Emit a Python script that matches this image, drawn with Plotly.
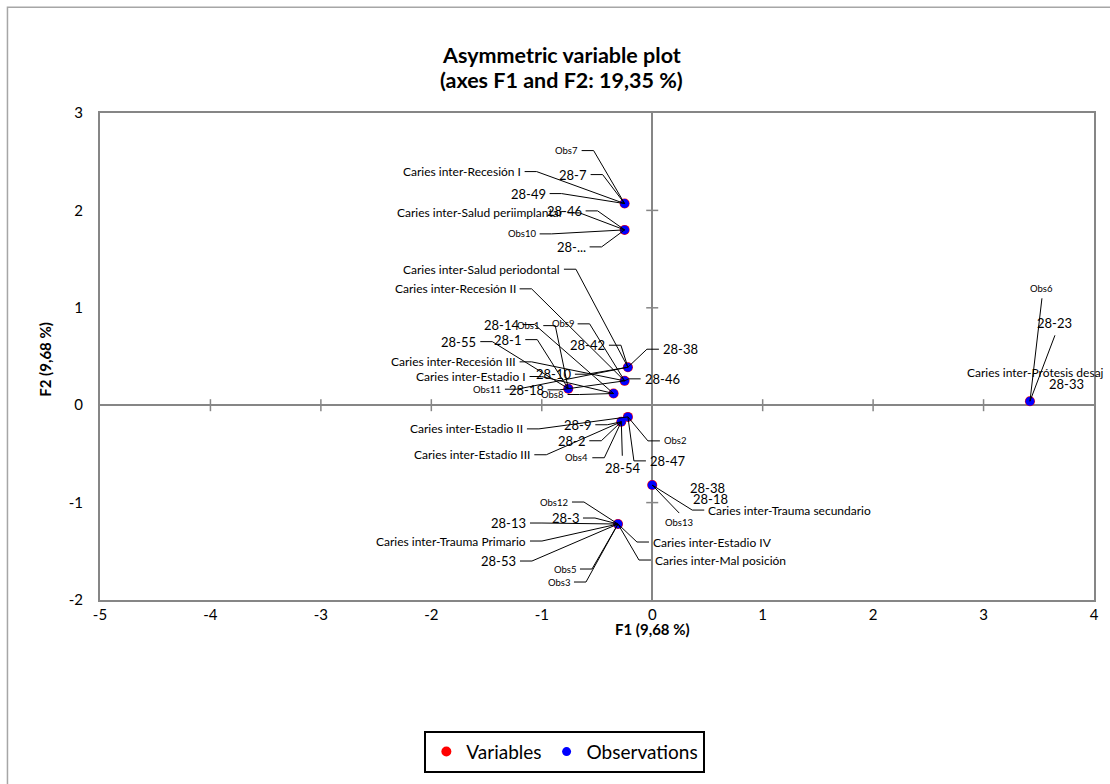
import plotly.graph_objects as go

# ---------------- data ----------------
# positions shared by variables (red) and observations (blue)
var_x = [-0.25, -0.25, -0.22, -0.25, -0.35, -0.76, -0.22, -0.28, 0.00, -0.31, 3.42]
var_y = [2.07, 1.80, 0.39, 0.25, 0.12, 0.17, -0.12, -0.17, -0.82, -1.22, 0.04]
obs_x = [-0.25, -0.25, -0.22, -0.25, -0.35, -0.76, -0.22, -0.28, 0.00, -0.31, 3.42]
obs_y = [2.07, 1.80, 0.39, 0.25, 0.12, 0.17, -0.12, -0.17, -0.82, -1.22, 0.04]

x_ticks = [-5, -4, -3, -2, -1, 0, 1, 2, 3, 4]
y_ticks = [-2, -1, 0, 1, 2, 3]
x_ticktext = ["-5", "-4", "-3", "-2", "-1", "0", "1", "2", "3", "4"]
y_ticktext = ["-2", "-1", "0", "1", "2", "3"]

title_lines = ["Asymmetric variable plot", "(axes F1 and F2: 19,35 %)"]
x_title = "F1 (9,68 %)"
y_title = "F2 (9,68 %)"

label_text = [
    "Obs7", "Caries inter-Recesión I", "28-7", "28-49",
    "Caries inter-Salud periimplantar", "28-46", "Obs10", "28-...",
    "Caries inter-Salud periodontal", "28-42", "28-38", "28-10", "Obs11",
    "Caries inter-Recesión II", "Obs9", "Caries inter-Recesión III", "28-46", "28-18",
    "28-14", "Caries inter-Estadio I", "Obs8",
    "Obs1", "28-55", "28-1",
    "Caries inter-Estadio II", "Obs2", "28-47",
    "28-9", "28-2", "Caries inter-Estadío III", "Obs4", "28-54",
    "28-38", "28-18", "Caries inter-Trauma secundario", "Obs13",
    "Obs12", "28-3", "28-13", "Caries inter-Trauma Primario", "28-53", "Obs5", "Obs3",
    "Caries inter-Estadio IV", "Caries inter-Mal posición",
    "Obs6", "28-23", "Caries inter-Prótesis desaj", "28-33",
]
label_point = [
    0, 0, 0, 0,
    1, 1, 1, 1,
    2, 2, 2, 2, 2,
    3, 3, 3, 3, 3,
    4, 4, 4,
    5, 5, 5,
    6, 6, 6,
    7, 7, 7, 7, 7,
    8, 8, 8, 8,
    9, 9, 9, 9, 9, 9, 9,
    9, 9,
    10, 10, 10, 10,
]

# ---------------- label placement (layout, pixels from the point) ----------------
# (dx, dy, side) ; dy positive = downward on screen
label_place = [
    (-43, -53, 'L'), (-100, -32, 'L'), (-34, -29, 'L'), (-75, -10, 'L'),
    (-57, -17, 'L'), (-39, -19, 'L'), (-85, 4, 'L'), (-35, 17, 'L'),
    (-64, -98, 'L'), (-19, -22, 'L'), (31, -18, 'R'), (-53, 7, 'L'), (-123, 22, 'L'),
    (-105, -92, 'L'), (-47, -57, 'L'), (-105, -19, 'L'), (16, -2, 'R'), (-77, 9, 'L'),
    (-91, -69, 'L'), (-84, -17, 'L'), (-46, 1, 'L'),
    (-25, -63, 'L'), (-88, -47, 'L'), (-43, -49, 'L'),
    (-101, 12, 'L'), (32, 24, 'R'), (18, 44, 'R'),
    (-26, 3, 'L'), (-32, 19, 'L'), (-87, 33, 'L'), (-29, 36, 'L'), (1, 34, 'B'),
    (36, 3, 'N'), (39, 14, 'N'), (52, 25, 'R'), (27, 28, 'B'),
    (-46, -22, 'L'), (-35, -6, 'L'), (-88, -1, 'L'), (-88, 17, 'L'), (-98, 37, 'L'),
    (-38, 45, 'L'), (-44, 58, 'L'),
    (31, 18, 'R'), (33, 36, 'R'),
    (12, -103, 'T'), (25, -66, 'T'), (-65, -29, 'N'), (17, -17, 'N'),
]

FONT = "Lato"
AXIS_GRAY = "#868686"
STUB = 12
W, H = 1110, 784
ML, MR, MT, MB = 100, 11, 113, 183
PW, PH = W - ML - MR, H - MT - MB


def paper_x(px):
    return (px - ML) / PW


def paper_y(py):
    return (H - MB - py) / PH


fig = go.Figure()
fig.add_trace(go.Scatter(x=var_x, y=var_y, mode="markers", name="Variables",
                         marker=dict(color="#ff0000", size=10), hoverinfo="skip"))
fig.add_trace(go.Scatter(x=obs_x, y=obs_y, mode="markers", name="Observations",
                         marker=dict(color="#0000ff", size=9), hoverinfo="skip"))

shapes = []
annotations = []


def font_size(t):
    if t.startswith("Obs"):
        return 9.5
    if t.startswith("Caries"):
        return 12
    return 13


for text, p, (dx, dy, side) in zip(label_text, label_point, label_place):
    px, py = obs_x[p], obs_y[p]
    fs = font_size(text)
    ann = dict(x=px, y=py, xref="x", yref="y", text=text, showarrow=False,
               font=dict(family=FONT, size=fs, color="black"))
    path = None
    if side == 'L':
        ex = dx + STUB
        ann.update(xanchor="right", yanchor="middle", xshift=dx - 2, yshift=-dy)
        path = f"M0,0 L{ex},{-dy} L{dx},{-dy}"
    elif side == 'R':
        ex = dx - STUB
        ann.update(xanchor="left", yanchor="middle", xshift=dx + 2, yshift=-dy)
        path = f"M0,0 L{ex},{-dy} L{dx},{-dy}"
    elif side == 'T':
        ann.update(xanchor="center", yanchor="bottom", xshift=dx, yshift=-dy + 2)
        path = f"M0,0 L{dx},{-dy}"
    elif side == 'B':
        ann.update(xanchor="center", yanchor="top", xshift=dx, yshift=-dy - 2)
        path = f"M0,0 L{dx},{-dy}"
    else:  # 'N' : no leader
        ann.update(xanchor="left", yanchor="middle", xshift=dx, yshift=-dy)
    annotations.append(ann)
    if path:
        shapes.append(dict(type="path", xref="x", yref="y", xsizemode="pixel",
                           ysizemode="pixel", xanchor=px, yanchor=py, path=path,
                           line=dict(color="black", width=1)))

# cross tick marks on the zero lines
for t in x_ticks[1:-1]:
    if t == 0:
        continue
    shapes.append(dict(type="line", xref="x", yref="y", ysizemode="pixel", yanchor=0,
                       x0=t, x1=t, y0=-6, y1=6, line=dict(color=AXIS_GRAY, width=1.5),
                       layer="below"))
for t in y_ticks[1:-1]:
    if t == 0:
        continue
    shapes.append(dict(type="line", xref="x", yref="y", xsizemode="pixel", xanchor=0,
                       y0=t, y1=t, x0=-6, x1=6, line=dict(color=AXIS_GRAY, width=1.5),
                       layer="below"))

# outer chart border (left and top edges visible)
shapes.append(dict(type="rect", xref="paper", yref="paper",
                   x0=paper_x(7), x1=paper_x(W + 20), y0=paper_y(H + 20), y1=paper_y(7),
                   line=dict(color="#a6a6a6", width=1.5), layer="below"))

# title (two lines)
annotations.append(dict(x=paper_x(564), y=paper_y(55), xref="paper", yref="paper",
                        text=f"<b>{title_lines[0]}</b>", showarrow=False,
                        xanchor="center", yanchor="middle",
                        font=dict(family=FONT, size=21.5, color="black")))
annotations.append(dict(x=paper_x(564), y=paper_y(80), xref="paper", yref="paper",
                        text=f"<b>{title_lines[1]}</b>", showarrow=False,
                        xanchor="center", yanchor="middle",
                        font=dict(family=FONT, size=21.5, color="black")))

# axis titles
annotations.append(dict(x=paper_x(655), y=paper_y(630), xref="paper", yref="paper",
                        text=f"<b>{x_title}</b>", showarrow=False,
                        xanchor="center", yanchor="middle",
                        font=dict(family=FONT, size=15, color="black")))
annotations.append(dict(x=paper_x(45), y=paper_y(360), xref="paper", yref="paper",
                        text=f"<b>{y_title}</b>", showarrow=False, textangle=-90,
                        xanchor="center", yanchor="middle",
                        font=dict(family=FONT, size=15, color="black")))

axis_common = dict(showgrid=False, zeroline=True, zerolinecolor=AXIS_GRAY,
                   zerolinewidth=2, showline=True, mirror=True, linecolor=AXIS_GRAY,
                   linewidth=2, ticks="", tickfont=dict(family=FONT, size=15, color="black"),
                   fixedrange=True, tickmode="array")

fig.update_layout(
    width=W, height=H,
    margin=dict(l=ML, r=MR, t=MT, b=MB),
    paper_bgcolor="white", plot_bgcolor="white",
    font=dict(family=FONT, color="black"),
    xaxis=dict(range=[-5, 4], tickvals=x_ticks, ticktext=x_ticktext, **axis_common),
    yaxis=dict(range=[-2, 3], tickvals=y_ticks, ticktext=y_ticktext,
               ticklabelstandoff=12, **axis_common),
    legend=dict(orientation="h", x=paper_x(426), y=paper_y(732), xanchor="left",
                yanchor="top", bordercolor="black", borderwidth=2,
                font=dict(family=FONT, size=19), itemsizing="trace"),
    shapes=shapes,
    annotations=annotations,
    showlegend=True,
)

fig.write_html("out.html",
               config={"displayModeBar": False},
               post_script="document.body.style.margin='0';"
                           "document.body.style.overflow='hidden';")
